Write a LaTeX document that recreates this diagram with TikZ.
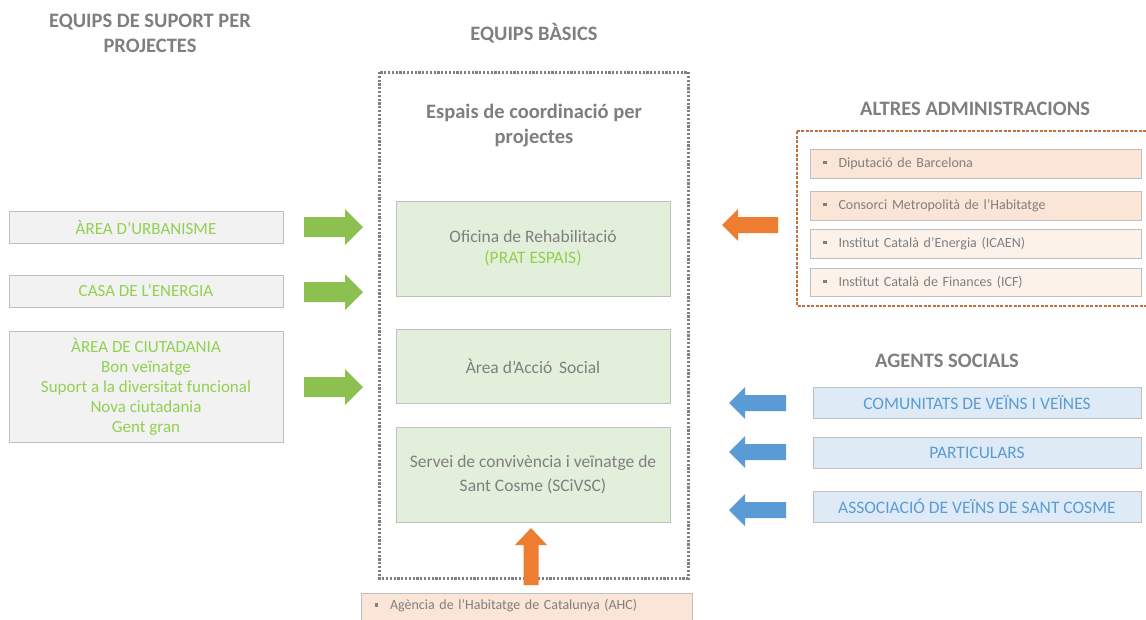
\documentclass[tikz,border=0pt]{standalone}
\usepackage{fontspec}
\setmainfont{Carlito}
\usetikzlibrary{positioning}
\definecolor{txtgray}{HTML}{7F7F7F}
\definecolor{txtgreen}{HTML}{92D050}
\definecolor{txtblue}{HTML}{5B9BD5}
\definecolor{arrgreen}{HTML}{8CC152}
\definecolor{arrorange}{HTML}{ED7D31}
\definecolor{arrblue}{HTML}{5B9BD5}
\definecolor{fillgreen}{HTML}{E2EFDA}
\definecolor{fillgray}{HTML}{F2F2F2}
\definecolor{fillorange}{HTML}{FBE5D6}
\definecolor{filllightor}{HTML}{FDF2EA}
\definecolor{fillblue}{HTML}{DEEBF7}
\definecolor{bordergray}{HTML}{BFBFBF}
\definecolor{dashorange}{HTML}{C0703A}
\tikzset{
  heading/.style={font=\bfseries\fontsize{20.5}{25}\selectfont, text=txtgray, align=center, inner sep=0},
  basebox/.style={draw=bordergray, line width=1pt, rectangle, inner sep=0, align=center},
  greenbox/.style={basebox, fill=fillgreen, text=txtgray, font=\fontsize{17.5}{21}\selectfont},
  leftbox/.style={basebox, fill=fillgray, text=txtgreen, font=\fontsize{17}{20}\selectfont},
  bluebox/.style={basebox, fill=fillblue, text=txtblue, font=\fontsize{17.5}{20}\selectfont},
  admbox/.style={basebox, fill=fillorange, text=txtgray, font=\fontsize{14}{16}\selectfont, align=left, text width=#1, inner xsep=13pt},
  admbox/.default=305pt,
  admlight/.style={admbox, fill=filllightor},
  garrowR/.pic={\fill[arrgreen] (0,-10) -- (41,-10) -- (41,-18) -- (59,0) -- (41,18) -- (41,10) -- (0,10) -- cycle;},
  barrowL/.pic={\fill[arrblue] (0,-8) -- (-41,-8) -- (-41,-16) -- (-57,0) -- (-41,16) -- (-41,8) -- (0,8) -- cycle;},
  oarrowL/.pic={\fill[arrorange] (0,-8) -- (-40,-8) -- (-40,-16) -- (-56,0) -- (-40,16) -- (-40,8) -- (0,8) -- cycle;},
  oarrowU/.pic={\fill[arrorange] (-7.5,0) -- (-7.5,-40) -- (-16,-40) -- (0,-57) -- (16,-40) -- (7.5,-40) -- (7.5,0) -- cycle;}
}
\newcommand{\blt}{\textcolor{txtgray}{\rule[3pt]{3.5pt}{3.5pt}}\hspace{12pt}}
\begin{document}
\begin{tikzpicture}[x=1pt,y=-1pt]
\useasboundingbox (0,0) rectangle (1146,619);
\fill[white] (0,0) rectangle (1146,619);
\begin{scope}
\clip (0,0) rectangle (1146,619);
% headings
\node[heading] (hsup) at (150,33.5) {EQUIPS DE SUPORT PER\\PROJECTES};
\node[heading] (hbas) at (534,33) {EQUIPS BÀSICS};
\node[heading] (halt) at (975,109) {ALTRES ADMINISTRACIONS};
\node[heading] (hage) at (947,361) {AGENTS SOCIALS};
% central dotted frame
\draw[txtgray, line width=3pt, dash pattern=on 2.2pt off 1.6pt] (379,72) rectangle (688,578);
\node[heading] (hesp) at (534,126) {Espais de coordinació per\\projectes};
% green boxes
\node[greenbox, minimum width=274pt, minimum height=95pt] (ofi) at (533,248.5) {Oficina de Rehabilitació\\\textcolor{txtgreen}{(PRAT ESPAIS)}};
\node[greenbox, minimum width=274pt, minimum height=74pt] (acc) at (533,366) {Àrea d’Acció\, Social};
\node[greenbox, minimum width=274pt, minimum height=95pt] (ser) at (533,474.5) {Servei de convivència i veïnatge de\\[3pt]Sant Cosme (SCiVSC)};
% left boxes
\node[leftbox, minimum width=274pt, minimum height=32pt] (urb) at (146,227) {ÀREA D’URBANISME};
\node[leftbox, minimum width=274pt, minimum height=32pt] (ene) at (146,291) {CASA DE L’ENERGIA};
\node[leftbox, minimum width=274pt, minimum height=111pt] (ciu) at (146,386.5) {ÀREA DE CIUTADANIA\\Bon veïnatge\\Suport a la diversitat funcional\\Nova ciutadania\\Gent gran};
\pic at (304,227) {garrowR};
\pic at (304,292) {garrowR};
\pic at (304,387) {garrowR};
% other administrations
\draw[dashorange, line width=1.5pt, dash pattern=on 3pt off 1.5pt] (797,131) rectangle (1152,306);
\node[admbox, minimum height=29pt] (dip) at (975.5,163.5) {\blt Diputació de Barcelona};
\node[admbox, minimum height=29pt] (con) at (975.5,205.5) {\blt Consorci Metropolità de l’Habitatge};
\node[admlight, minimum height=29pt] (ica) at (975.5,243.5) {\blt Institut Català d’Energia (ICAEN)};
\node[admlight, minimum height=28pt] (icf) at (975.5,282) {\blt Institut Català de Finances (ICF)};
\pic at (778,225) {oarrowL};
% social agents
\node[bluebox, minimum width=328pt, minimum height=31pt] (com) at (977,402.5) {COMUNITATS DE VEÏNS I VEÏNES};
\node[bluebox, minimum width=328pt, minimum height=31pt] (par) at (977,452.5) {PARTICULARS};
\node[bluebox, minimum width=328pt, minimum height=31pt] (ass) at (977,506.5) {ASSOCIACIÓ DE VEÏNS DE SANT COSME};
\pic at (786,403) {barrowL};
\pic at (786,452) {barrowL};
\pic at (786,510) {barrowL};
% bottom AHC
\node[admbox=305pt, minimum height=32pt, anchor=north west, text depth=10pt] (ahc) at (361,593) {\blt Agència de l’Habitatge de Catalunya (AHC)};
\pic at (531,585) {oarrowU};
\end{scope}
\end{tikzpicture}
\end{document}
